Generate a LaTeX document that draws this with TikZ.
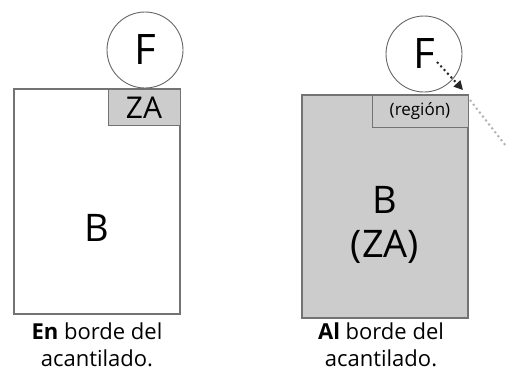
\documentclass[tikz,border=0pt]{standalone}
\usepackage{fontspec}
\setmainfont{Open Sans}
\usetikzlibrary{arrows.meta}
\begin{document}
\begin{tikzpicture}[x=1pt,y=-1pt,
  block/.style={draw=black!55, line width=1.2pt},
  zone/.style={draw=black!55, fill=black!20, line width=1pt},
  ball/.style={circle, draw=black!60, line width=0.9pt, fill=white, minimum size=76pt, inner sep=0pt, font=\fontsize{42}{42}\selectfont},
  big/.style={font=\fontsize{38}{44}\selectfont},
  caption/.style={align=center, font=\fontsize{22}{27}\selectfont}]
\useasboundingbox (0,0) rectangle (506,381);
% left: on the cliff edge
\draw[block] (14,89) rectangle (180,314);
\draw[zone] (108,89) rectangle (180,125);
\node[font=\fontsize{30}{30}\selectfont] (za) at (144,108) {ZA};
\node[ball] (f1) at (145,50) {F};
\node[big] (b1) at (97,228) {B};
\node[caption] (c1) at (97,345) {\textbf{En} borde del\\acantilado.};
% right: at the cliff edge
\draw[zone, line width=1.2pt] (302,95) rectangle (468,318);
\draw[zone] (372,95) rectangle (468,127);
\node[font=\fontsize{17}{17}\selectfont] (reg) at (420,111) {(región)};
\node[ball] (f2) at (424,54) {F};
\node[big, align=center] (b2) at (385,225) {B\\(ZA)};
\node[caption] (c2) at (381,345) {\textbf{Al} borde del\\acantilado.};
\coordinate (tip) at (463,90);
\coordinate (out) at (506,146);
\draw[black!85, line width=2pt, dash pattern=on 2pt off 3pt, -{Triangle[length=9pt,width=9pt]}] (437,62) -- (tip);
\draw[black!30, line width=2pt, dash pattern=on 2pt off 3pt] (470,100) -- (out);
\end{tikzpicture}
\end{document}
